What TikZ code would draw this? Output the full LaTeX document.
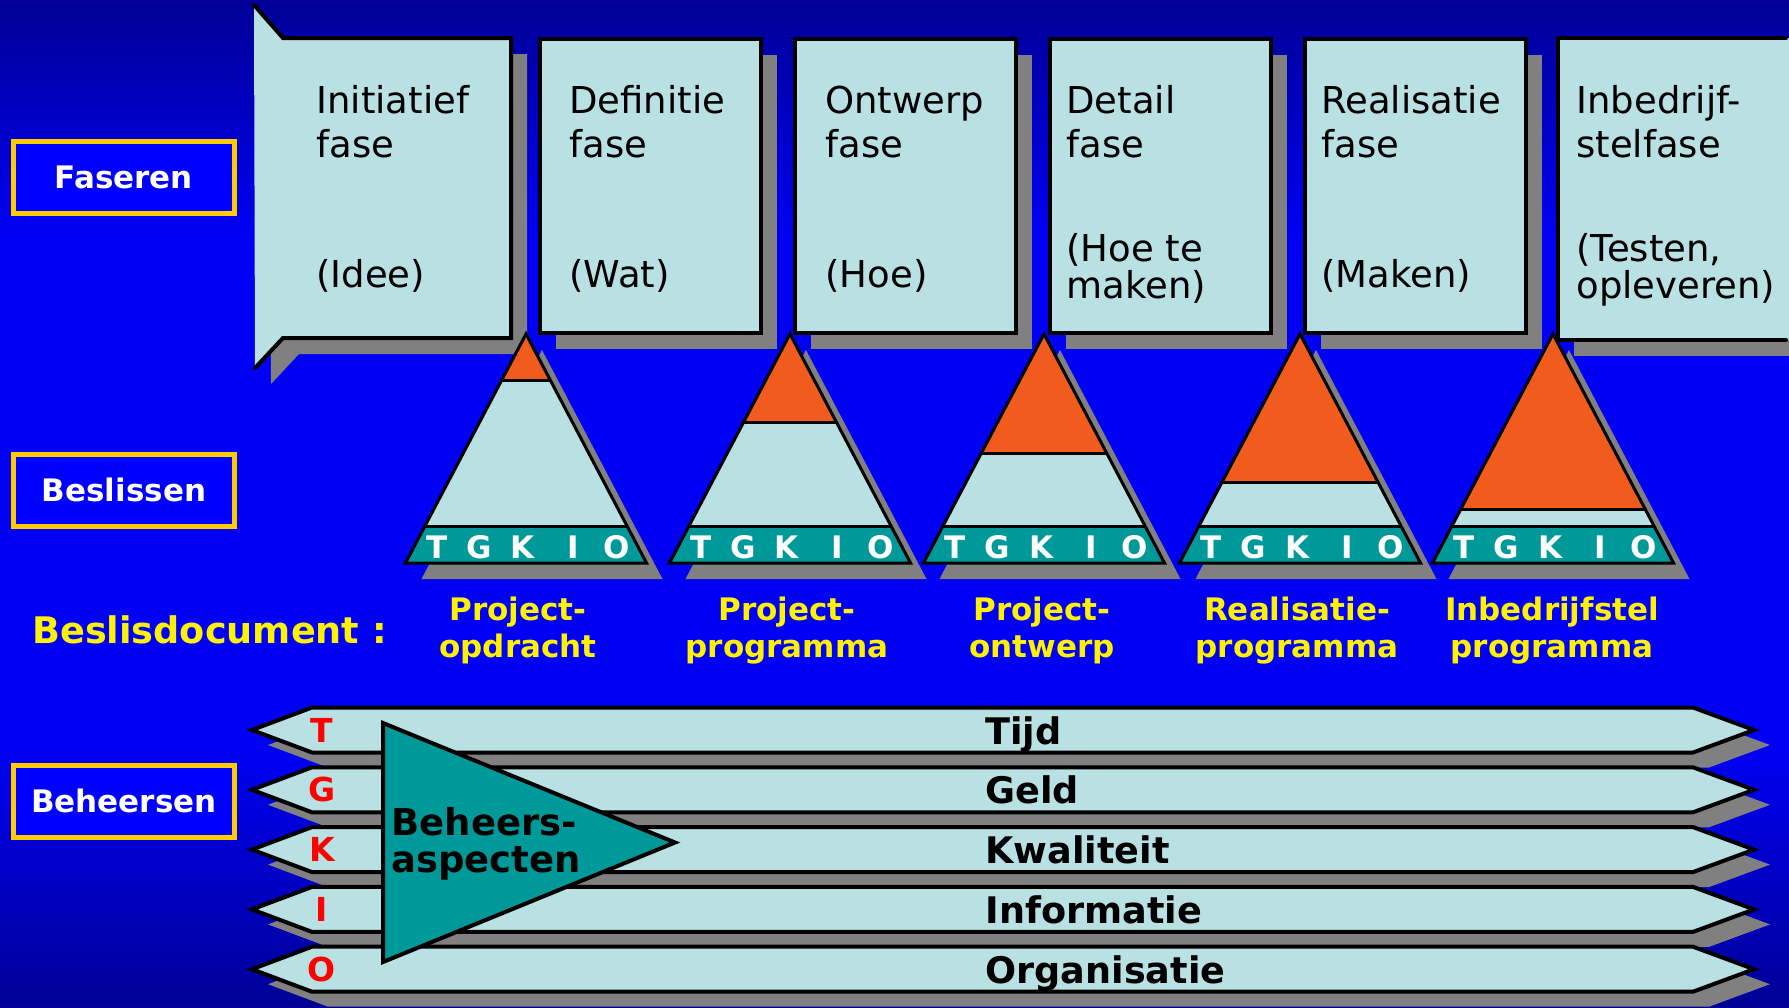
\documentclass[tikz,border=0pt]{standalone}
\usepackage{fontspec}
\setmainfont{DejaVu Sans}
\usetikzlibrary{calc}

\definecolor{bgdark}{RGB}{0,0,150}
\definecolor{bgblue}{RGB}{0,0,245}
\definecolor{lightfill}{RGB}{185,224,226}
\definecolor{peak}{RGB}{241,92,30}
\definecolor{tealband}{RGB}{0,153,153}
\definecolor{shadowgray}{RGB}{128,128,128}
\definecolor{goldline}{RGB}{255,204,0}
\definecolor{labelblue}{RGB}{0,0,255}

\pgfdeclareverticalshading{bgshade}{100bp}{color(0bp)=(bgdark); color(25bp)=(bgdark); color(38bp)=(bgblue); color(63bp)=(bgblue); color(75bp)=(bgdark); color(100bp)=(bgdark)}

\begin{document}
\begin{tikzpicture}[x=0.5pt, y=-0.5pt,
    frame/.style={draw=black, line width=2pt, line cap=round},
    lbl/.style={draw=goldline, fill=labelblue, line width=2.5pt, minimum width=110.5pt, minimum height=36pt, inner sep=0pt, text=white, font=\fontsize{15.5}{18}\selectfont\bfseries},
    phasetxt/.style={anchor=base west, inner sep=0pt, font=\fontsize{18.5}{22}\selectfont},
    doc/.style={anchor=base, align=center, inner sep=0pt, text=yellow, font=\fontsize{15.5}{18.5}\selectfont\bfseries},
    tgkio/.style={anchor=base, inner sep=0pt, text=white, font=\fontsize{15.5}{18}\selectfont\bfseries},
    redletter/.style={anchor=base, inner sep=0pt, text=red, font=\fontsize{16.5}{18}\selectfont\bfseries},
    aspect/.style={anchor=base west, inner sep=0pt, font=\fontsize{18.3}{22}\selectfont\bfseries}
]

\useasboundingbox (0,0) rectangle (1789,1007);
\clip (0,0) rectangle (1789,1007);
\shade[shading=bgshade] (0,0) rectangle (1789,1007);

\node[lbl] (faseren) at (124,177) {Faseren};
\node[lbl] (beslissen) at (124,490) {Beslissen};
\node[lbl] (beheersen) at (124,801) {Beheersen};

% fasen
\fill[shadowgray] (270,21) -- (299,54) -- (527,54) -- (527,354) -- (299,354) -- (271,384) -- cycle;
\foreach \x in {540,795,1050,1305}
  \fill[shadowgray] (\x+16,55) rectangle (\x+237,349);
\fill[shadowgray] (1574,54) rectangle (1800,356);

\fill[lightfill] (254,5) -- (283,38) -- (511,38) -- (511,338) -- (283,338) -- (255,368) -- cycle;
\draw[frame] (254,5) -- (283,38) -- (511,38) -- (511,338) -- (283,338) -- (255,368);
\foreach \x in {540,795,1050,1305}
  \draw[frame, fill=lightfill] (\x,39) rectangle (\x+221,333);
\fill[lightfill] (1558,38) rectangle (1789,340);
\draw[frame] (1786,38) -- (1558,38) -- (1558,340) -- (1786,340);

\foreach \n/\x/\ta/\tb in {ini/316/Initiatief/fase, def/569/Definitie/fase, ont/825/Ontwerp/fase,
    det/1066/Detail/fase, rea/1321/Realisatie/fase, inb/1576/Inbedrijf-/stelfase}{
  \node[phasetxt] (\n-a) at (\x,113) {\ta};
  \node[phasetxt] (\n-b) at (\x,157) {\tb};
}
\node[phasetxt] (ini-c) at (316,287) {(Idee)};
\node[phasetxt] (def-c) at (569,287) {(Wat)};
\node[phasetxt] (ont-c) at (825,287) {(Hoe)};
\node[phasetxt] (det-c) at (1066,261) {(Hoe te};
\node[phasetxt] (det-d) at (1066,298) {maken)};
\node[phasetxt] (rea-c) at (1321,287) {(Maken)};
\node[phasetxt] (inb-c) at (1576,261) {(Testen,};
\node[phasetxt] (inb-d) at (1576,298) {opleveren)};

% beslissen
\foreach \ax/\oy/\n in {526/380/1, 790/422/2, 1044/453/3, 1300/482/4, 1553/509/5}{
  \fill[shadowgray] (\ax+16,350) -- (\ax+136.5,579) -- (\ax-104.5,579) -- cycle;
  \begin{scope}
    \clip (\ax,334) -- (\ax+120.5,563) -- (\ax-120.5,563) -- cycle;
    \fill[lightfill] (\ax-130,330) rectangle (\ax+130,570);
    \fill[peak] (\ax-130,330) rectangle (\ax+130,\oy);
    \fill[tealband] (\ax-130,526) rectangle (\ax+130,570);
    \draw[line width=1.5pt] (\ax-130,\oy) -- (\ax+130,\oy) (\ax-130,526) -- (\ax+130,526);
  \end{scope}
  \draw[line width=1.5pt] (\ax,334) -- (\ax+120.5,563) -- (\ax-120.5,563) -- cycle;
  \foreach \l/\dx in {T/-89,G/-47,K/-3,I/47,O/91}
    \node[tgkio] (\l-\n) at (\ax+\dx,558) {\l};
}

\node[anchor=base west, inner sep=0pt, text=yellow, font=\fontsize{18.3}{22}\selectfont\bfseries]
  (beslisdoc) at (32,643) {Beslisdocument :};
\node[doc] (doc1) at (518,657) {Project-\\opdracht};
\node[doc] (doc2) at (787,657) {Project-\\programma};
\node[doc] (doc3) at (1042,657) {Project-\\ontwerp};
\node[doc] (doc4) at (1297,657) {Realisatie-\\programma};
\node[doc] (doc5) at (1552,657) {Inbedrijfstel\\programma};

% beheersen
\foreach \asp/\l [count=\i from 0] in {Tijd/T, Geld/G, Kwaliteit/K, Informatie/I, Organisatie/O}{
  \pgfmathsetmacro{\yc}{730+59.8*\i}
  \fill[shadowgray] (268,\yc+15) -- (328,\yc-7.5) -- (1709,\yc-7.5) -- (1770,\yc+15)
    -- (1709,\yc+37.5) -- (328,\yc+37.5) -- cycle;
  \draw[line width=2pt, fill=lightfill] (252,\yc) -- (312,\yc-22.5) -- (1693,\yc-22.5) -- (1754,\yc)
    -- (1693,\yc+22.5) -- (312,\yc+22.5) -- cycle;
  \node[redletter] (let-\l) at (322,\yc+12) {\l};
  \node[aspect] (asp-\l) at (985,\yc+14) {\asp};
}

\draw[line width=2pt, fill=tealband] (383,723) -- (675,842.5) -- (383,962) -- cycle;
\node[aspect, align=left, font=\fontsize{18.5}{18.5}\selectfont\bfseries] (beheersasp) at (391,872) {Beheers-\\aspecten};

\end{tikzpicture}
\end{document}
